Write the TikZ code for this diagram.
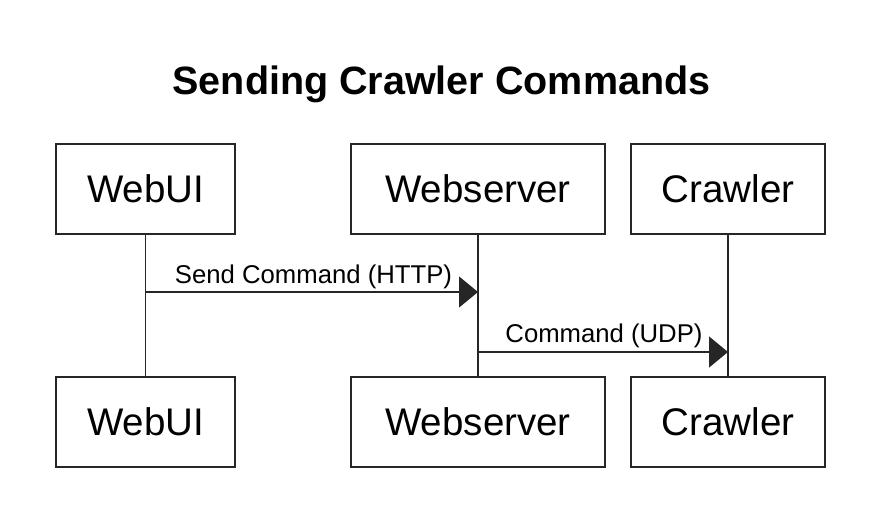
\documentclass[tikz,border=0pt]{standalone}
\usepackage{fontspec}
\setmainfont{Liberation Sans}
\usetikzlibrary{arrows.meta}
\begin{document}
\begin{tikzpicture}[x=1pt,y=-1pt,
  actor/.style={draw=black!85, line width=1.3pt, minimum height=90pt, inner sep=0pt, font=\fontsize{38.5}{44}\selectfont},
  life/.style={draw=black!85, line width=1.3pt},
  msg/.style={draw=black!85, line width=1.3pt, -{Triangle[length=19pt,width=31pt]}},
  lbl/.style={font=\fontsize{25.7}{30}\selectfont, anchor=base, inner sep=0pt}]
\useasboundingbox (0,0) rectangle (872,504);
\node[font=\bfseries\fontsize{39.5}{46}\selectfont, anchor=base, inner sep=0pt] (title) at (441.5,94) {Sending Crawler Commands};
\node[actor, minimum width=179pt] (wt) at (145.5,189) {WebUI};
\node[actor, minimum width=254pt] (st) at (478,189) {Webserver};
\node[actor, minimum width=194pt] (ct) at (728,189) {Crawler};
\node[actor, minimum width=179pt] (wb) at (145.5,422) {WebUI};
\node[actor, minimum width=254pt] (sb) at (478,422) {Webserver};
\node[actor, minimum width=194pt] (cb) at (728,422) {Crawler};
\draw[life] (wt.south) -- (wb.north);
\draw[life] (st.south) -- (sb.north);
\draw[life] (ct.south) -- (cb.north);
\coordinate (m1s) at (145.5,292);
\coordinate (m1e) at (478,292);
\coordinate (m2s) at (478,352);
\coordinate (m2e) at (728,352);
\draw[msg] (m1s) -- (m1e);
\draw[msg] (m2s) -- (m2e);
\node[lbl] (l1) at (313.5,283) {Send Command (HTTP)};
\node[lbl] (l2) at (604,342) {Command (UDP)};
\end{tikzpicture}
\end{document}
